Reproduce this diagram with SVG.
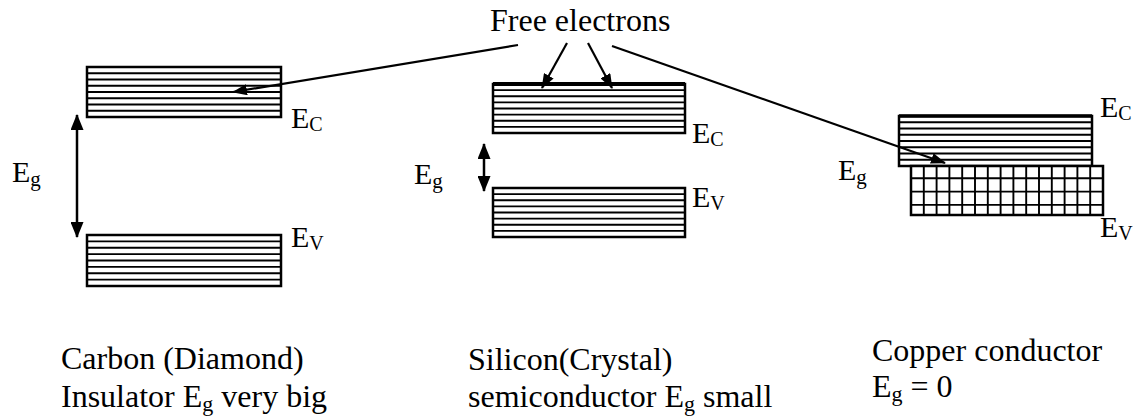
<svg xmlns="http://www.w3.org/2000/svg" width="1136" height="417" viewBox="0 0 1136 417">
<style>
text{font-family:"Liberation Serif","Times New Roman",serif;fill:#000}
.t{font-size:32px}
.lb{font-size:30px}
.band{fill:#fff;stroke:#000;stroke-width:2.5}
.hl{stroke:#000;stroke-width:1.9}
.grid{stroke:#000;stroke-width:1.9;fill:none}
.ar{stroke:#000;stroke-width:2.2;fill:none}
.dar{stroke:#000;stroke-width:2.5;fill:none}
</style>
<defs>
<marker id="ah" markerUnits="userSpaceOnUse" markerWidth="15" markerHeight="11" refX="14" refY="5.5" orient="auto-start-reverse">
<path d="M0,0 L15,5.5 L0,11 z" fill="#000"/>
</marker>
<marker id="dh" markerUnits="userSpaceOnUse" markerWidth="16" markerHeight="13" refX="15" refY="6.5" orient="auto-start-reverse">
<path d="M0,0 L16,6.5 L0,13 z" fill="#000"/>
</marker>
</defs>
<rect width="1136" height="417" fill="#fff"/>

<g id="title"><text class="t" x="490" y="31">Free electrons</text></g>

<g id="carbon-ec">
<rect class="band" x="87" y="67" width="194" height="50"/>
<path class="hl" d="M87,73.25H281M87,79.5H281M87,85.75H281M87,92H281M87,98.25H281M87,104.5H281M87,110.75H281"/>
<text class="lb" x="291" y="128">E<tspan font-size="20" dy="3">C</tspan></text>
</g>
<g id="carbon-ev">
<rect class="band" x="87" y="235" width="194" height="51"/>
<path class="hl" d="M87,241.4H281M87,247.8H281M87,254.1H281M87,260.5H281M87,266.9H281M87,273.3H281M87,279.6H281"/>
<text class="lb" x="291" y="247">E<tspan font-size="20" dy="3">V</tspan></text>
</g>
<g id="carbon-eg">
<text class="lb" x="12" y="182">E<tspan font-size="21" dy="4">g</tspan></text>
</g>

<g id="silicon-ec">
<rect class="band" x="493" y="84" width="192" height="49"/>
<line x1="493" y1="84" x2="685" y2="84" stroke="#000" stroke-width="4"/>
<path class="hl" d="M493,90.1H685M493,96.25H685M493,102.4H685M493,108.5H685M493,114.6H685M493,120.75H685M493,126.9H685"/>
<text class="lb" x="692" y="143">E<tspan font-size="20" dy="3">C</tspan></text>
</g>
<g id="silicon-ev">
<rect class="band" x="493" y="188" width="192" height="49"/>
<path class="hl" d="M493,194.1H685M493,200.25H685M493,206.4H685M493,212.5H685M493,218.6H685M493,224.75H685M493,230.9H685"/>
<text class="lb" x="692" y="207">E<tspan font-size="20" dy="3">V</tspan></text>
</g>
<g id="silicon-eg">
<text class="lb" x="414" y="184">E<tspan font-size="21" dy="4">g</tspan></text>
</g>

<g id="copper-ec">
<rect class="band" x="899" y="116" width="193" height="50"/>
<line x1="899" y1="116" x2="1092" y2="116" stroke="#000" stroke-width="3.5"/>
<path class="hl" d="M899,122.25H1092M899,128.5H1092M899,134.75H1092M899,141H1092M899,147.25H1092M899,153.5H1092M899,159.75H1092"/>
<text class="lb" x="1100" y="117">E<tspan font-size="20" dy="3">C</tspan></text>
</g>
<g id="copper-ev">
<rect class="band" x="911" y="166" width="192" height="49"/>
<path class="grid" d="M911,178.3H1103M911,191.6H1103M911,204.9H1103M923.8,166V215M936.6,166V215M949.4,166V215M962.2,166V215M975,166V215M987.8,166V215M1000.6,166V215M1013.4,166V215M1026.2,166V215M1039,166V215M1051.8,166V215M1064.6,166V215M1077.4,166V215M1090.2,166V215"/>
<text class="lb" x="1100" y="237">E<tspan font-size="20" dy="3">V</tspan></text>
</g>
<g id="copper-eg">
<text class="lb" x="838" y="180">E<tspan font-size="21" dy="4">g</tspan></text>
</g>

<g id="connectors">
<line class="ar" x1="518" y1="45" x2="233" y2="92" marker-end="url(#ah)"/>
<line class="ar" x1="567" y1="43" x2="542" y2="88" marker-end="url(#ah)"/>
<line class="ar" x1="588" y1="43" x2="612" y2="88" marker-end="url(#ah)"/>
<line class="ar" x1="612" y1="46" x2="945" y2="163" marker-end="url(#ah)"/>
<line class="dar" x1="77" y1="115" x2="77" y2="237" marker-start="url(#dh)" marker-end="url(#dh)"/>
<line class="dar" x1="484" y1="144" x2="484" y2="191" marker-start="url(#dh)" marker-end="url(#dh)"/>
</g>

<g id="captions">
<text class="t" x="61" y="369">Carbon (Diamond)</text>
<text class="t" x="61" y="407">Insulator E<tspan font-size="22" dy="4">g</tspan><tspan dy="-4"> very big</tspan></text>
<text class="t" x="468" y="370">Silicon(Crystal)</text>
<text class="t" x="468" y="407">semiconductor E<tspan font-size="22" dy="4">g</tspan><tspan dy="-4"> small</tspan></text>
<text class="t" x="872" y="361">Copper conductor</text>
<text class="t" x="872" y="397">E<tspan font-size="22" dy="4">g</tspan><tspan dy="-4"> = 0</tspan></text>
</g>
</svg>
